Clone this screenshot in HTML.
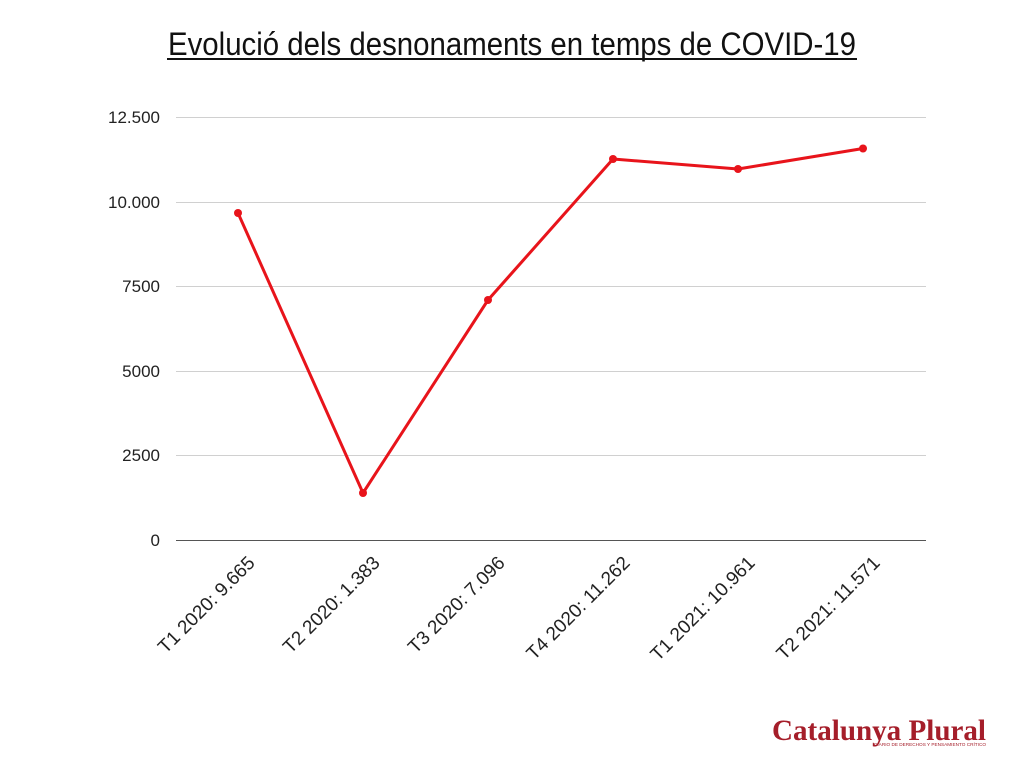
<!DOCTYPE html>
<html><head><meta charset="utf-8"><style>body{margin:0;background:#fff}svg{display:block}</style></head><body>
<svg width="1024" height="768" xmlns="http://www.w3.org/2000/svg" font-family="Liberation Sans, sans-serif">
<rect width="1024" height="768" fill="#fff"/>
<text x="512" y="55" text-anchor="middle" font-size="32" textLength="688" lengthAdjust="spacingAndGlyphs" fill="#111">Evolució dels desnonaments en temps de COVID-19</text>
<line x1="167" y1="59" x2="857" y2="59" stroke="#111" stroke-width="2"/>
<g stroke="#d0d0d0" stroke-width="1">
<line x1="176" y1="117.5" x2="926" y2="117.5"/>
<line x1="176" y1="202.5" x2="926" y2="202.5"/>
<line x1="176" y1="286.5" x2="926" y2="286.5"/>
<line x1="176" y1="371.5" x2="926" y2="371.5"/>
<line x1="176" y1="455.5" x2="926" y2="455.5"/>
</g>
<line x1="176" y1="540.5" x2="926" y2="540.5" stroke="#555" stroke-width="1"/>
<g font-size="17" fill="#222" text-anchor="end">
<text x="160" y="123">12.500</text>
<text x="160" y="208">10.000</text>
<text x="160" y="292">7500</text>
<text x="160" y="377">5000</text>
<text x="160" y="461">2500</text>
<text x="160" y="546">0</text>
</g>
<polyline fill="none" stroke="#e8141b" stroke-width="3" stroke-linejoin="round" points="238,213 363,493 488,300 613,159 738,169 863,148.5"/>
<g fill="#e8141b">
<circle cx="238" cy="213" r="4"/><circle cx="363" cy="493" r="4"/><circle cx="488" cy="300" r="4"/>
<circle cx="613" cy="159" r="4"/><circle cx="738" cy="169" r="4"/><circle cx="863" cy="148.5" r="4"/>
</g>
<g font-size="19" fill="#222" text-anchor="end">
<text transform="translate(256,564) rotate(-45)">T1 2020: 9.665</text>
<text transform="translate(381,564) rotate(-45)">T2 2020: 1.383</text>
<text transform="translate(506,564) rotate(-45)">T3 2020: 7.096</text>
<text transform="translate(631,564) rotate(-45)">T4 2020: 11.262</text>
<text transform="translate(756,564) rotate(-45)">T1 2021: 10.961</text>
<text transform="translate(881,564) rotate(-45)">T2 2021: 11.571</text>
</g>
<text x="772" y="740" font-family="Liberation Serif, serif" font-weight="bold" font-size="30" fill="#a51e2a" textLength="214" lengthAdjust="spacingAndGlyphs">Catalunya Plural</text>
<text x="874" y="746" font-size="4.5" fill="#a51e2a" textLength="112" lengthAdjust="spacingAndGlyphs">DIARIO DE DERECHOS Y PENSAMIENTO CRÍTICO</text>
</svg>
</body></html>
